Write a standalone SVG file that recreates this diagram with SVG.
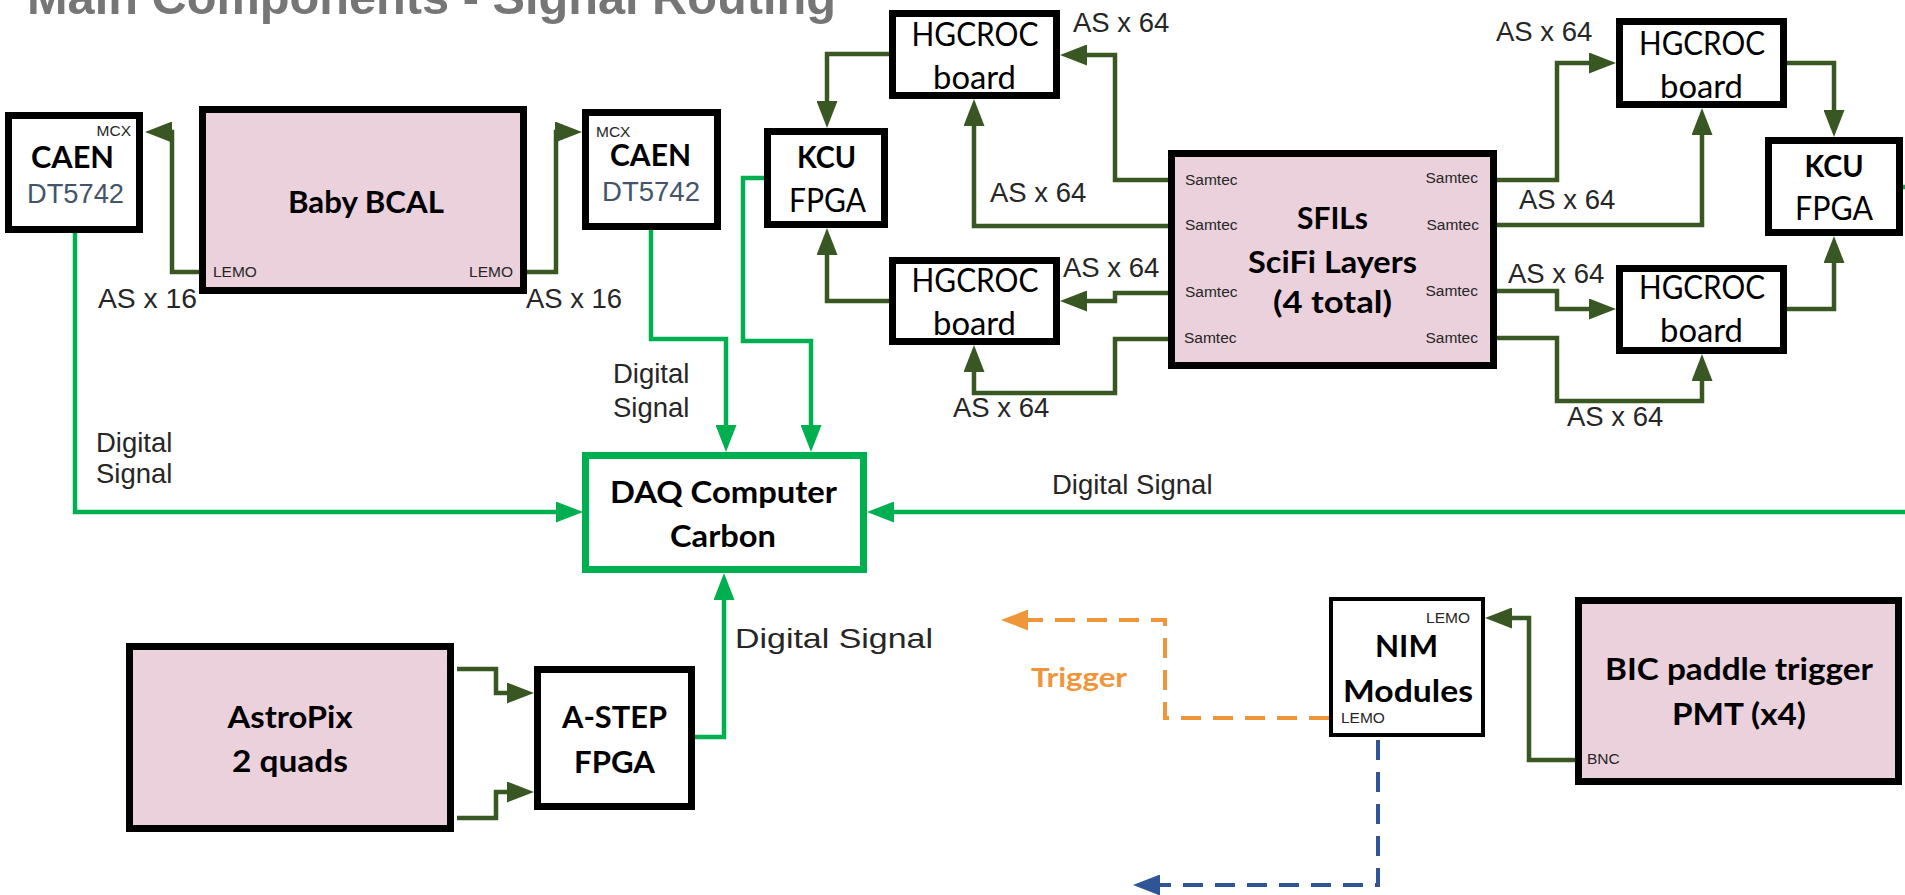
<svg xmlns="http://www.w3.org/2000/svg" width="1905" height="895" viewBox="0 0 1905 895">
<defs>
<style>
.box{fill:#fff;stroke:#000;stroke-width:7}
.thin{stroke-width:4}
.pink{fill:#EAD1DC}
.daq{fill:#fff;stroke:#00B050;stroke-width:7}
.dg{fill:none;stroke:#385723;stroke-width:4.5;marker-end:url(#ad)}
.bg{fill:none;stroke:#00B050;stroke-width:4.5;marker-end:url(#ag)}
.or{fill:none;stroke:#F0963A;stroke-width:4;stroke-dasharray:20 12;marker-end:url(#ao)}
.bl{fill:none;stroke:#2F5597;stroke-width:4;stroke-dasharray:20 12;marker-end:url(#ab)}
.lbl{font-family:"Liberation Sans",Arial,sans-serif;font-size:27.5px;fill:#262626}
.sm{font-family:"Liberation Sans",Arial,sans-serif;font-size:15.5px;fill:#262626}
.dt{font-family:"Liberation Sans",Arial,sans-serif;font-size:27px;fill:#44546A}
.cb{font-family:Lato,"Liberation Sans",sans-serif;font-weight:bold;font-size:31px;fill:#000}
.cr{font-family:Lato,"Liberation Sans",sans-serif;font-weight:normal;font-size:32px;fill:#000}
.title{font-family:"Liberation Sans",Arial,sans-serif;font-weight:bold;font-size:48px;fill:#767676}
</style>
<marker id="ad" markerUnits="userSpaceOnUse" markerWidth="27" markerHeight="21" refX="15" refY="10.5" orient="auto" viewBox="0 0 27 21"><path d="M0,0 L27,10.5 L0,21 z" fill="#385723"/></marker>
<marker id="ag" markerUnits="userSpaceOnUse" markerWidth="27" markerHeight="21" refX="15" refY="10.5" orient="auto" viewBox="0 0 27 21"><path d="M0,0 L27,10.5 L0,21 z" fill="#00B050"/></marker>
<marker id="ao" markerUnits="userSpaceOnUse" markerWidth="27" markerHeight="21" refX="15" refY="10.5" orient="auto" viewBox="0 0 27 21"><path d="M0,0 L27,10.5 L0,21 z" fill="#F0963A"/></marker>
<marker id="ab" markerUnits="userSpaceOnUse" markerWidth="27" markerHeight="21" refX="15" refY="10.5" orient="auto" viewBox="0 0 27 21"><path d="M0,0 L27,10.5 L0,21 z" fill="#2F5597"/></marker>
</defs>
<rect width="1905" height="895" fill="#fff"/>
<text class="title" x="27" y="14" textLength="809" lengthAdjust="spacingAndGlyphs">Main Components - Signal Routing</text>

<g id="connectors">
<path class="dg" d="M1168,180 H1115 V55 H1072"/>
<path class="dg" d="M1168,226 H974 V111"/>
<path class="dg" d="M889,54 H827 V116"/>
<path class="dg" d="M889,301 H827 V240"/>
<path class="dg" d="M1168,293 H1115 V301 H1072"/>
<path class="dg" d="M1168,339 H1115 V393 H974 V357"/>
<path class="dg" d="M1497,180 H1557 V63 H1604"/>
<path class="dg" d="M1497,225 H1702 V120"/>
<path class="dg" d="M1787,63 H1834 V125"/>
<path class="dg" d="M1497,291 H1557 V309 H1604"/>
<path class="dg" d="M1497,338 H1557 V401 H1702 V366"/>
<path class="dg" d="M1787,309 H1834 V248"/>
<path class="dg" d="M199,272 H172 V132 H157"/>
<path class="dg" d="M527,272 H556 V132 H570"/>
<path class="dg" d="M457,669 H496 V693 H522"/>
<path class="dg" d="M457,818 H496 V792 H522"/>
<path class="dg" d="M1577,760 H1529 V618 H1497"/>
<path class="bg" d="M75,233 V512 H571"/>
<path class="bg" d="M651,230 V339 H726 V440"/>
<path class="bg" d="M764,178 H743 V341 H811 V440"/>
<path class="bg" d="M1905,512 H879"/>
<path class="bg" d="M695,737 H724 V585"/>
<path d="M1899,187 H1905" stroke="#00B050" stroke-width="4.5"/>
<path class="or" d="M1329,718 H1165 V620 H1013"/>
<path class="bl" d="M1378,740 V885 H1145"/>
<text class="lbl" x="98" y="308" textLength="99" lengthAdjust="spacingAndGlyphs">AS x 16</text>
<text class="lbl" x="526" y="308" textLength="96" lengthAdjust="spacingAndGlyphs">AS x 16</text>
<text class="lbl" x="1073" y="32">AS x 64</text>
<text class="lbl" x="990" y="202">AS x 64</text>
<text class="lbl" x="1063" y="277">AS x 64</text>
<text class="lbl" x="953" y="417">AS x 64</text>
<text class="lbl" x="1496" y="41">AS x 64</text>
<text class="lbl" x="1519" y="209">AS x 64</text>
<text class="lbl" x="1508" y="283">AS x 64</text>
<text class="lbl" x="1567" y="426">AS x 64</text>
<text class="lbl" x="96" y="452">Digital</text>
<text class="lbl" x="96" y="483">Signal</text>
<text class="lbl" x="613" y="383">Digital</text>
<text class="lbl" x="613" y="417">Signal</text>
<text class="lbl" x="1052" y="494">Digital Signal</text>
<text class="lbl" x="735" y="648" font-size="29" textLength="198" lengthAdjust="spacingAndGlyphs">Digital Signal</text>
<text x="1079" y="687" font-family="Lato,'Liberation Sans',sans-serif" font-weight="bold" font-size="26" fill="#F0963A" text-anchor="middle" textLength="96" lengthAdjust="spacingAndGlyphs">Trigger</text>
</g>

<g id="caen-left">
<rect class="box" x="8.5" y="115.5" width="131" height="114"/>
<text class="sm" x="131" y="136" text-anchor="end">MCX</text>
<text class="cb" x="72.5" y="168" text-anchor="middle" textLength="83" lengthAdjust="spacingAndGlyphs">CAEN</text>
<text class="dt" x="75.5" y="203" text-anchor="middle" textLength="97" lengthAdjust="spacingAndGlyphs">DT5742</text>
</g>

<g id="baby-bcal">
<rect class="box pink" x="202.5" y="109.5" width="321" height="181"/>
<text class="cb" x="366" y="213" text-anchor="middle" font-size="33" textLength="156" lengthAdjust="spacingAndGlyphs">Baby BCAL</text>
<text class="sm" x="213" y="277">LEMO</text>
<text class="sm" x="513" y="277" text-anchor="end">LEMO</text>
</g>

<g id="caen-right">
<rect class="box" x="585.5" y="112.5" width="132" height="114"/>
<text class="sm" x="596" y="137">MCX</text>
<text class="cb" x="650.5" y="166" text-anchor="middle" textLength="81" lengthAdjust="spacingAndGlyphs">CAEN</text>
<text class="dt" x="651" y="201" text-anchor="middle" textLength="98" lengthAdjust="spacingAndGlyphs">DT5742</text>
</g>

<g id="kcu-left">
<rect class="box" x="767.5" y="131.5" width="117" height="93"/>
<text class="cb" x="826.5" y="168" text-anchor="middle" textLength="59" lengthAdjust="spacingAndGlyphs">KCU</text>
<text class="cr" x="827.5" y="212" text-anchor="middle" textLength="77" lengthAdjust="spacingAndGlyphs">FPGA</text>
</g>

<g id="hgcroc-tl">
<rect class="box" x="892.5" y="13.5" width="164" height="82"/>
<text class="cr" x="975" y="46" text-anchor="middle" textLength="127" lengthAdjust="spacingAndGlyphs">HGCROC</text>
<text class="cr" x="974.5" y="89" text-anchor="middle" textLength="83" lengthAdjust="spacingAndGlyphs">board</text>
</g>

<g id="hgcroc-bl">
<rect class="box" x="892.5" y="260.5" width="164" height="81"/>
<text class="cr" x="975" y="292" text-anchor="middle" textLength="127" lengthAdjust="spacingAndGlyphs">HGCROC</text>
<text class="cr" x="974.5" y="335" text-anchor="middle" textLength="83" lengthAdjust="spacingAndGlyphs">board</text>
</g>

<g id="sfils">
<rect class="box pink" x="1171.5" y="153.5" width="322" height="212"/>
<text class="cb" x="1332.5" y="229" text-anchor="middle" textLength="71" lengthAdjust="spacingAndGlyphs">SFILs</text>
<text class="cb" x="1332.5" y="273" text-anchor="middle" textLength="169" lengthAdjust="spacingAndGlyphs">SciFi Layers</text>
<text class="cb" x="1332.5" y="313" text-anchor="middle" textLength="119" lengthAdjust="spacingAndGlyphs">(4 total)</text>
<text class="sm" x="1185" y="185" font-size="16">Samtec</text>
<text class="sm" x="1185" y="230" font-size="16">Samtec</text>
<text class="sm" x="1185" y="297" font-size="16">Samtec</text>
<text class="sm" x="1184" y="343" font-size="16">Samtec</text>
<text class="sm" x="1478" y="183" font-size="16" text-anchor="end">Samtec</text>
<text class="sm" x="1479" y="230" font-size="16" text-anchor="end">Samtec</text>
<text class="sm" x="1478" y="296" font-size="16" text-anchor="end">Samtec</text>
<text class="sm" x="1478" y="343" font-size="16" text-anchor="end">Samtec</text>
</g>

<g id="hgcroc-tr">
<rect class="box" x="1619.5" y="21.5" width="164" height="83"/>
<text class="cr" x="1702" y="55" text-anchor="middle" textLength="126" lengthAdjust="spacingAndGlyphs">HGCROC</text>
<text class="cr" x="1701.5" y="98" text-anchor="middle" textLength="83" lengthAdjust="spacingAndGlyphs">board</text>
</g>

<g id="hgcroc-br">
<rect class="box" x="1619.5" y="268.5" width="164" height="82"/>
<text class="cr" x="1702" y="299" text-anchor="middle" textLength="126" lengthAdjust="spacingAndGlyphs">HGCROC</text>
<text class="cr" x="1701.5" y="342" text-anchor="middle" textLength="83" lengthAdjust="spacingAndGlyphs">board</text>
</g>

<g id="kcu-right">
<rect class="box" x="1768.5" y="140.5" width="131" height="92"/>
<text class="cb" x="1834" y="177" text-anchor="middle" textLength="59" lengthAdjust="spacingAndGlyphs">KCU</text>
<text class="cr" x="1834" y="220" text-anchor="middle" textLength="78" lengthAdjust="spacingAndGlyphs">FPGA</text>
</g>

<g id="daq">
<rect class="daq" x="585.5" y="455.5" width="278" height="114"/>
<text class="cb" x="723.5" y="503" text-anchor="middle" textLength="227" lengthAdjust="spacingAndGlyphs">DAQ Computer</text>
<text class="cb" x="723" y="547" text-anchor="middle" textLength="106" lengthAdjust="spacingAndGlyphs">Carbon</text>
</g>

<g id="astropix">
<rect class="box pink" x="129.5" y="646.5" width="321" height="182"/>
<text class="cb" x="290" y="728" text-anchor="middle" textLength="125" lengthAdjust="spacingAndGlyphs">AstroPix</text>
<text class="cb" x="290" y="772" text-anchor="middle" textLength="116" lengthAdjust="spacingAndGlyphs">2 quads</text>
</g>

<g id="astep">
<rect class="box" x="537.5" y="669.5" width="154" height="137"/>
<text class="cb" x="614.5" y="728" text-anchor="middle" textLength="105" lengthAdjust="spacingAndGlyphs">A-STEP</text>
<text class="cb" x="614.5" y="773" text-anchor="middle" textLength="81" lengthAdjust="spacingAndGlyphs">FPGA</text>
</g>

<g id="nim">
<rect class="box thin" x="1331" y="599" width="152" height="136"/>
<text class="sm" x="1470" y="623" text-anchor="end">LEMO</text>
<text class="cb" x="1406.5" y="657" text-anchor="middle" textLength="63" lengthAdjust="spacingAndGlyphs">NIM</text>
<text class="cb" x="1408" y="702" text-anchor="middle" textLength="130" lengthAdjust="spacingAndGlyphs">Modules</text>
<text class="sm" x="1341" y="723">LEMO</text>
</g>

<g id="bic">
<rect class="box pink" x="1578.5" y="600.5" width="320" height="181"/>
<text class="cb" x="1739" y="680" text-anchor="middle" textLength="268" lengthAdjust="spacingAndGlyphs">BIC paddle trigger</text>
<text class="cb" x="1739" y="725" text-anchor="middle" textLength="134" lengthAdjust="spacingAndGlyphs">PMT (x4)</text>
<text class="sm" x="1587" y="764">BNC</text>
</g>
</svg>
